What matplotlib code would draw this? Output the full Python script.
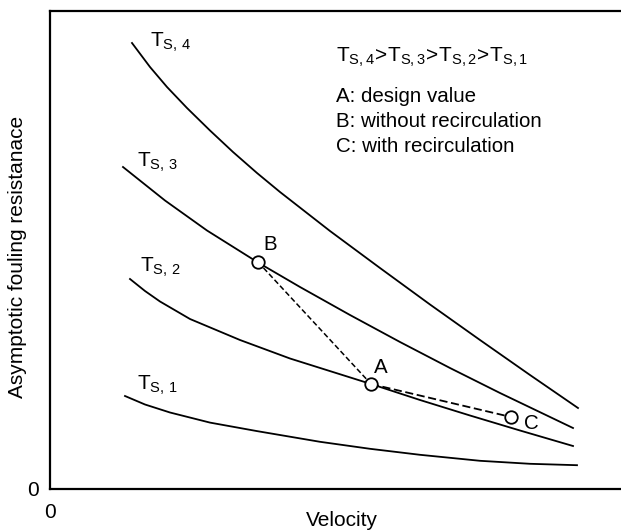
import numpy as np
import matplotlib
matplotlib.use("Agg")
import matplotlib.pyplot as plt

plt.rcParams['font.family'] = ['Liberation Sans', 'DejaVu Sans']
plt.rcParams['mathtext.fontset'] = 'custom'
plt.rcParams['mathtext.rm'] = 'Liberation Sans'
plt.rcParams['mathtext.it'] = 'Liberation Sans'

# curves (arbitrary units)
ts4_x = [8.2, 10.0, 11.7, 13.7, 16.0, 18.3, 20.7, 23.0, 28.0, 33.0, 38.0, 43.0, 48.0, 52.8]
ts4_y = [44.6, 42.2, 40.2, 38.1, 35.85, 33.7, 31.6, 29.7, 25.8, 22.1, 18.45, 14.9, 11.4, 8.1]

ts3_x = [7.3, 11.5, 15.7, 20.8, 25.0, 30.0, 35.0, 40.0, 45.0, 52.3]
ts3_y = [32.2, 28.85, 25.85, 22.65, 20.2, 17.4, 14.7, 12.1, 9.6, 6.1]

ts2_x = [8.0, 9.5, 11.0, 14.0, 19.0, 24.0, 32.1, 37.0, 42.0, 47.0, 52.3]
ts2_y = [21.0, 19.8, 18.75, 17.0, 14.9, 13.05, 10.5, 8.9, 7.35, 5.85, 4.3]

ts1_x = [7.5, 9.5, 12.0, 16.0, 20.7, 27.0, 32.0, 37.0, 43.0, 48.0, 52.7]
ts1_y = [9.3, 8.45, 7.65, 6.64, 5.79, 4.72, 4.02, 3.42, 2.82, 2.52, 2.38]

# operating points
pt_names = ['A', 'B', 'C']
pt_x = [32.1, 20.8, 46.1]
pt_y = [10.5, 22.7, 7.2]

curve_labels = [r'$\mathrm{T_{S,\,4}}$', r'$\mathrm{T_{S,\,3}}$',
                r'$\mathrm{T_{S,\,2}}$', r'$\mathrm{T_{S,\,1}}$']
note_lines = ['A: design value', 'B: without recirculation', 'C: with recirculation']

fig = plt.figure(figsize=(6.21, 5.32), dpi=100)
ax = fig.add_axes([50/621, 43/532, 575/621, 478/532])

for xs, ys in [(ts4_x, ts4_y), (ts3_x, ts3_y), (ts2_x, ts2_y), (ts1_x, ts1_y)]:
    ax.plot(xs, ys, color='black', lw=1.3, solid_joinstyle='round')

# B -> A (fine dashes), A -> C (longer dashes)
ax.plot([pt_x[1], pt_x[0]], [pt_y[1], pt_y[0]], color='black', lw=1.1, dashes=(3.5, 1.8))
ax.plot([pt_x[0], pt_x[2]], [pt_y[0], pt_y[2]], color='black', lw=1.3, dashes=(4.5, 2))
ax.plot(pt_x, pt_y, 'o', ms=9, mfc='white', mec='black', mew=1.3, zorder=5)

fs = 14.8
ax.text(32.4, 11.6, 'A', fontsize=fs, ha='left', va='baseline')
ax.text(21.3, 23.9, 'B', fontsize=fs, ha='left', va='baseline')
ax.text(47.4, 6.0, 'C', fontsize=fs, ha='left', va='baseline')

label_x = [10.0, 8.7, 9.0, 8.7]
label_y = [44.2, 32.2, 21.7, 9.9]
for lx, ly, lab in zip(label_x, label_y, curve_labels):
    ax.text(lx, ly, lab, fontsize=15, ha='left', va='baseline')

gt = r'\!>\!'
ax.text(28.6, 42.7,
        r'$\mathrm{T_{S,4}}' + gt + r'\mathrm{T_{S,3}}' + gt +
        r'\mathrm{T_{S,2}}' + gt + r'\mathrm{T_{S,1}}$',
        fontsize=15, ha='left', va='baseline')
for i, line in enumerate(note_lines):
    ax.text(28.6, 38.7 - 2.5 * i, line, fontsize=fs, ha='left', va='baseline')

ax.set_xlim(0, 57.5)
ax.set_ylim(0, 47.8)
ax.set_xticks([0])
ax.set_yticks([0])
ax.tick_params(length=0, labelsize=15)
ax.tick_params(axis='x', pad=10)
ax.tick_params(axis='y', pad=8)
ax.set_xlabel('Velocity', fontsize=15)
ax.set_ylabel('Asymptotic fouling resistanace', fontsize=15)
ax.xaxis.set_label_coords(0.508, -0.046)
ax.yaxis.set_label_coords(-0.04, 0.485)
for side in ['left', 'bottom', 'top']:
    ax.spines[side].set_linewidth(1.6)
ax.spines['right'].set_visible(False)

fig.savefig('out.png', dpi=100)
